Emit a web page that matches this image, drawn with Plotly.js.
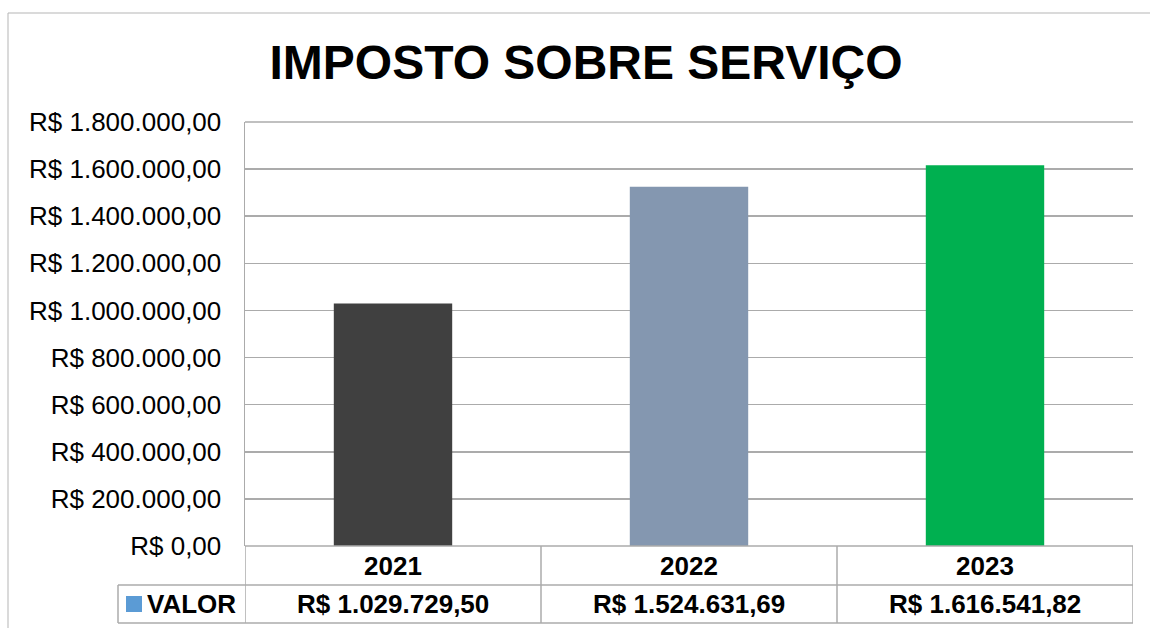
<!DOCTYPE html>
<html>
<head>
<meta charset="utf-8">
<script src="https://cdn.plot.ly/plotly-3.0.1.min.js"></script>
<style>html,body{margin:0;padding:0;background:#fff;}#chart{width:1150px;height:628px;}</style>
</head>
<body>
<div id="chart"></div>
<script>
const categories = ['2021', '2022', '2023'];
const values = [1029729.50, 1524631.69, 1616541.82];
const valueLabels = ['R$ 1.029.729,50', 'R$ 1.524.631,69', 'R$ 1.616.541,82'];
const barColors = ['#404040', '#8497B0', '#00B050'];
const seriesName = 'VALOR';
const chartTitle = 'IMPOSTO SOBRE SERVIÇO';

const W = 1150, H = 628;
const L = 245, R = 1133, T = 122, B = 546;
const pw = R - L, ph = B - T;
const px = x => (x - L) / pw;
const py = y => (B - y) / ph;
const grid = '#ababab';
const font = 'Liberation Sans, Arial, sans-serif';

const shapes = [];
const line = (x0, y0, x1, y1, xref) => shapes.push({type: 'line', xref: xref || 'paper', yref: 'paper', x0: x0, x1: x1, y0: y0, y1: y1, line: {color: grid, width: 1.5}, layer: 'above'});
// top and bottom gridlines of the plot area
line(0, 1, 1, 1);
line(0, 0, 1, 0);
// table horizontal lines
line(px(118), py(585), 1, py(585));
line(px(118), py(623), 1, py(623));
// table vertical lines at category boundaries
for (let i = 0; i <= categories.length; i++) {
  line(i - 0.5, 0, i - 0.5, py(623), 'x');
}
line(px(118), py(585), px(118), py(623));
// outer frame
shapes.push({type: 'line', xref: 'paper', yref: 'paper', x0: px(8), x1: px(1150), y0: py(13), y1: py(13), line: {color: '#b5b5b5', width: 1}});
shapes.push({type: 'line', xref: 'paper', yref: 'paper', x0: px(8), x1: px(8), y0: py(13), y1: py(640), line: {color: '#b5b5b5', width: 1}});
// legend key square
shapes.push({type: 'rect', xref: 'paper', yref: 'paper', x0: px(126), x1: px(142), y0: py(596), y1: py(612), fillcolor: '#5B9BD5', line: {width: 0}});

const annotations = [];
categories.forEach((c, i) => {
  annotations.push({xref: 'x', yref: 'paper', x: i, y: py(566), text: '<b>' + c + '</b>', showarrow: false, xanchor: 'center', yanchor: 'middle', font: {family: font, size: 26, color: '#000'}});
  annotations.push({xref: 'x', yref: 'paper', x: i, y: py(604), text: '<b>' + valueLabels[i] + '</b>', showarrow: false, xanchor: 'center', yanchor: 'middle', font: {family: font, size: 26, color: '#000'}});
});
annotations.push({xref: 'paper', yref: 'paper', x: px(145), y: py(604), text: '<b>' + seriesName + '</b>', showarrow: false, xanchor: 'left', yanchor: 'middle', font: {family: font, size: 26, color: '#000'}});

const data = [{
  type: 'bar',
  x: categories,
  y: values,
  name: seriesName,
  marker: {color: barColors},
  hoverinfo: 'none'
}];

const layout = {
  width: W, height: H,
  margin: {l: L, r: W - R, t: T, b: H - B, pad: 0},
  paper_bgcolor: '#fff', plot_bgcolor: '#fff',
  separators: ',.',
  showlegend: false,
  bargap: 0.6,
  title: {text: '<b>' + chartTitle + '</b>', xref: 'container', yref: 'container', x: 586 / W, y: 1 - 62 / H, xanchor: 'center', yanchor: 'middle', font: {family: font, size: 48, color: '#000'}},
  xaxis: {type: 'category', range: [-0.5, 2.5], showticklabels: false, showgrid: false, zeroline: false, showline: false, fixedrange: true},
  yaxis: {range: [0, 1800000], dtick: 200000, tick0: 0, tickformat: ',.2f', tickprefix: 'R$ ', showgrid: true, gridcolor: grid, gridwidth: 1.5, zeroline: false, showline: true, linecolor: grid, linewidth: 1.5, ticks: '', ticklabelstandoff: 17, tickfont: {family: font, size: 26, color: '#000'}, fixedrange: true},
  shapes: shapes,
  annotations: annotations
};

Plotly.newPlot('chart', data, layout, {displayModeBar: false, staticPlot: true});
</script>
</body>
</html>
